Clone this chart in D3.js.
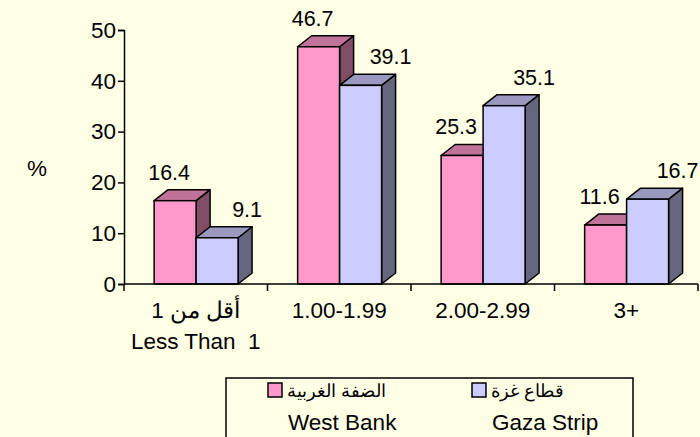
<!DOCTYPE html>
<html>
<head>
<meta charset="utf-8">
<script src="https://cdn.jsdelivr.net/npm/d3@7"></script>
<style>
  body { margin: 0; background: #FFFFE6; }
  svg { display: block; font-family: "Liberation Sans", Arial, sans-serif; }
</style>
</head>
<body>
<div id="canvas"></div>
<script>
const w = 700;
const h = 437;

// data
const categories = ["أقل من 1", "1.00-1.99", "2.00-2.99", "3+"];
const categoriesSecondLine = ["Less Than  1", "", "", ""];
const seriesNames = ["westBank", "gaza"];
const seriesAr = ["الضفة الغربية", "قطاع غزة"];
const seriesEn = ["West Bank", "Gaza Strip"];
const westBank = [16.4, 46.7, 25.3, 11.6];
const gaza = [9.1, 39.1, 35.1, 16.7];
const yTicks = [0, 10, 20, 30, 40, 50];

const colors = {
  westBank: { front: "#FF99CC", top: "#C07399", side: "#804D66" },
  gaza: { front: "#CCCCFF", top: "#9999C0", side: "#666680" }
};

const margin = { top: 30, left: 124, right: 2, bottom: 153 };
const depthX = 14, depthY = 11;
const fontSize = "22.5px";

const svg = d3.select("#canvas").append("svg")
  .attr("width", w).attr("height", h);

svg.append("rect").attr("width", w).attr("height", h).attr("fill", "#FFFFE6");

const x = d3.scaleBand()
  .domain(categories)
  .range([margin.left, w - margin.right]);

const x1 = d3.scaleBand()
  .domain(seriesNames)
  .range([x.bandwidth() * 0.21, x.bandwidth() * 0.795]);

const y = d3.scaleLinear()
  .domain([0, 50])
  .range([h - margin.bottom, margin.top]);

// axes
const yAxis = svg.append("g")
  .attr("transform", "translate(" + margin.left + ",0)")
  .call(d3.axisLeft(y).tickValues(yTicks).tickSize(6).tickPadding(2));
yAxis.select(".domain").attr("stroke", "#000").attr("stroke-width", 1.5);
yAxis.selectAll(".tick line").attr("stroke", "#000").attr("stroke-width", 1.5);
yAxis.selectAll("text")
  .style("font-size", fontSize)
  .attr("fill", "#000");

svg.append("text")
  .attr("x", 37).attr("y", 176)
  .attr("text-anchor", "middle")
  .style("font-size", fontSize)
  .text("%");

// bars
const rows = categories.map((c, i) => ({ cat: c, values: [
  { key: "westBank", value: westBank[i] },
  { key: "gaza", value: gaza[i] }
]}));

const groups = svg.selectAll(".group")
  .data(rows)
  .enter().append("g")
  .attr("class", "group")
  .attr("transform", d => "translate(" + x(d.cat) + ",0)");

function drawBar(sel) {
  sel.each(function(d) {
    const g = d3.select(this);
    const x0 = x1(d.key), bw = x1.bandwidth();
    const yt = y(d.value), yb = y(0);
    const c = colors[d.key];
    // side
    g.append("path")
      .attr("d", "M" + (x0 + bw) + "," + yb + "L" + (x0 + bw + depthX) + "," + (yb - depthY) +
        "L" + (x0 + bw + depthX) + "," + (yt - depthY) + "L" + (x0 + bw) + "," + yt + "Z")
      .attr("fill", c.side).attr("stroke", "#000").attr("stroke-width", 1.5)
      .attr("stroke-linejoin", "round");
    // top
    g.append("path")
      .attr("d", "M" + x0 + "," + yt + "L" + (x0 + depthX) + "," + (yt - depthY) +
        "L" + (x0 + bw + depthX) + "," + (yt - depthY) + "L" + (x0 + bw) + "," + yt + "Z")
      .attr("fill", c.top).attr("stroke", "#000").attr("stroke-width", 1.5)
      .attr("stroke-linejoin", "round");
    // front
    g.append("rect")
      .attr("x", x0).attr("y", yt)
      .attr("width", bw).attr("height", yb - yt)
      .attr("fill", c.front).attr("stroke", "#000").attr("stroke-width", 1.5);
  });
}

groups.selectAll(".bar")
  .data(d => d.values)
  .enter().append("g")
  .attr("class", "bar")
  .call(drawBar);

// value labels
const labelShift = { westBank: -13, gaza: 23 };
groups.selectAll(".val")
  .data(d => d.values)
  .enter().append("text")
  .attr("class", "val")
  .attr("x", d => x1(d.key) + (x1.bandwidth() + depthX) / 2 + labelShift[d.key])
  .attr("y", d => y(d.value) - depthY - 10)
  .attr("text-anchor", "middle")
  .style("font-size", "21.5px")
  .text(d => d.value.toFixed(1));

// x axis on top of bars
const xAxis = svg.append("g")
  .attr("transform", "translate(0," + y(0) + ")");
xAxis.append("line")
  .attr("x1", margin.left).attr("x2", w - margin.right)
  .attr("stroke", "#000").attr("stroke-width", 1.5);
xAxis.selectAll(".xtick")
  .data(categories.map(c => x(c)).concat([w - margin.right]))
  .enter().append("line")
  .attr("x1", d => d).attr("x2", d => d)
  .attr("y1", 0).attr("y2", 7)
  .attr("stroke", "#000").attr("stroke-width", 1.5);

xAxis.selectAll(".cat1")
  .data(categories)
  .enter().append("text")
  .attr("x", d => x(d) + x.bandwidth() / 2)
  .attr("y", 34)
  .attr("text-anchor", "middle")
  .style("font-size", fontSize)
  .text(d => d);

xAxis.selectAll(".cat2")
  .data(categoriesSecondLine)
  .enter().append("text")
  .attr("x", (d, i) => x(categories[i]) + x.bandwidth() / 2)
  .attr("y", 65)
  .attr("text-anchor", "middle")
  .style("font-size", fontSize)
  .style("white-space", "pre")
  .text(d => d);

// legend
const legend = svg.append("g").attr("transform", "translate(226,378)");
legend.append("rect")
  .attr("width", 407).attr("height", 70)
  .attr("fill", "none").attr("stroke", "#000").attr("stroke-width", 1.5);

const legendX = d3.scalePoint().domain(seriesNames).range([42, 246]);
const items = legend.selectAll(".item")
  .data(seriesNames)
  .enter().append("g")
  .attr("transform", d => "translate(" + legendX(d) + ",0)");
items.append("rect")
  .attr("x", 0).attr("y", 5)
  .attr("width", 14).attr("height", 14)
  .attr("fill", d => colors[d].front)
  .attr("stroke", "#000").attr("stroke-width", 1.5);
items.append("text")
  .attr("x", 19).attr("y", 19)
  .style("font-size", "18px")
  .text((d, i) => seriesAr[i]);
items.append("text")
  .attr("x", 20).attr("y", 52)
  .style("font-size", fontSize)
  .text((d, i) => seriesEn[i]);
</script>
</body>
</html>
